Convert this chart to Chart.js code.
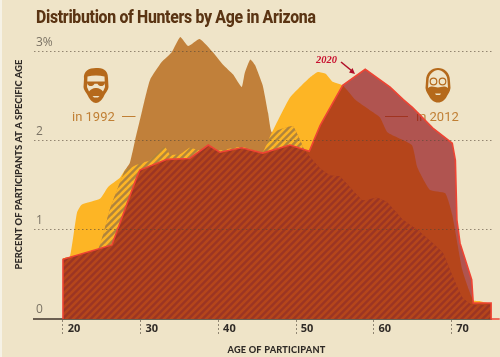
<!DOCTYPE html>
<html>
<head>
<meta charset="utf-8">
<title>Distribution of Hunters by Age in Arizona</title>
<script src="https://cdn.jsdelivr.net/npm/chart.js@4"></script>
<style>
  html, body { margin: 0; padding: 0; }
  body { width: 500px; height: 357px; overflow: hidden; position: relative;
         background: linear-gradient(to right, #f6f2e6 0 2px, #efe4c8 2px); }
  canvas { position: absolute; left: 0; top: 0; filter: blur(0.35px); }
  h1 { position: absolute; left: 36px; top: 7px; margin: 0; white-space: nowrap;
       font: 800 17.5px "Roboto", sans-serif; color: #5a3413; letter-spacing: -0.35px;
       transform: scaleX(0.905); transform-origin: left top; }
  svg { position: absolute; }
</style>
</head>
<body>
<canvas id="grafica" width="500" height="357"></canvas>
<h1>Distribution of Hunters by Age in Arizona</h1>

<svg style="left:83px;top:67px" width="26" height="36" viewBox="0 0 26 36">
  <path fill="#b5691b" d="M1 12C0 4 6 1 13 1C19 1 25 2 25 11L25.500 20C25 24 22 26 21 29C19 33 16 36 13 36C10 36 7 33 5 29C4 26 1 24 .5 20Z"/>
  <path fill="#efe4c8" d="M4.500 9.500C10 8 16 8 21.500 9.500L22 20L20 24.500C18 22 15 20.500 13 21C11 20.500 8 22 6 24.500L4 20Z"/>
  <path fill="#b5691b" d="M4 14.500H22V16C21 20 16 20 14.500 16.800H11.500C10 20 5 20 4 16Z"/>
  <path fill="#efe4c8" d="M9.500 29H16.500L15 30.500H11Z"/>
</svg>

<svg style="left:425px;top:68px" width="26" height="35" viewBox="0 0 26 35">
  <path fill="#b5691b" d="M1 13C1 4 7 0 13 0C19 0 25 4 25 13L25.500 20C25 24 23 26 22 28C20 32 17 34.500 13 34.500C9 34.500 6 32 4 28C3 26 1 24 .5 20Z"/>
  <path fill="#efe4c8" d="M3.500 13C3.500 6 9 2 13 2C17 2 22.500 6 22.500 13L23 20C19 17 16 19.500 13 19.500C10 19.500 7 17 3 20Z"/>
  <circle cx="8.500" cy="13.500" r="3.300" fill="none" stroke="#b5691b" stroke-width="1.200"/>
  <circle cx="17.500" cy="13.500" r="3.300" fill="none" stroke="#b5691b" stroke-width="1.200"/>
  <path fill="#efe4c8" d="M10 25.500H16L15 27H11Z"/>
</svg>

<script>
// Valores (edad, porcentaje)
const edades1992 = [20, 24.5, 26, 28, 28.6, 29.3, 30.2, 31.2, 32.7, 34, 35.1, 36.1, 37.6, 39.3, 40.6, 41.9, 43, 43.4, 44.1, 44.7, 45.7, 46.4, 46.9, 48.8, 49.6, 50.5, 51.1, 53.1, 54.4, 55.6, 56.9, 58.6, 60.4, 61.7, 63.8, 65.6, 67.6, 68.9, 70.2, 71.4, 72.6, 75.1];
const valores1992 = [0.68, 0.78, 1.22, 1.67, 1.75, 2.01, 2.34, 2.68, 2.88, 2.99, 3.16, 3.06, 3.14, 2.99, 2.85, 2.74, 2.60, 2.76, 2.91, 2.85, 2.62, 2.31, 2.09, 2.15, 2.16, 2.01, 1.89, 1.69, 1.61, 1.60, 1.48, 1.33, 1.36, 1.31, 1.11, 1.00, 0.85, 0.74, 0.47, 0.24, 0.16, 0.16];

const edades2012 = [20, 20.9, 21.8, 22.4, 24.8, 25.8, 27.3, 28, 29.5, 31.2, 33.1, 33.8, 35.1, 36.3, 37.6, 38.7, 40.2, 43.8, 45.7, 46.9, 49.2, 51.8, 52.8, 53.8, 54.7, 56, 57.6, 59.5, 60.8, 61.8, 64.9, 65.6, 67.2, 69.2, 70.1, 71.4, 72.8, 73.7, 75.1];
const valores2012 = [0.68, 0.70, 1.19, 1.28, 1.35, 1.48, 1.58, 1.67, 1.73, 1.78, 1.93, 1.84, 1.85, 1.92, 1.89, 1.94, 1.89, 1.94, 1.87, 2.09, 2.48, 2.71, 2.77, 2.75, 2.66, 2.62, 2.46, 2.34, 2.26, 2.09, 1.95, 1.70, 1.45, 1.41, 1.17, 0.55, 0.21, 0.20, 0.17];

// Zona donde coinciden 1992 y 2012 (rayada en el original)
const edadesComun = [20, 24.5, 26, 28, 29.5, 31.2, 33.1, 33.8, 35.1, 36.3, 37.6, 38.7, 40.2, 43, 45.7, 46.9, 48.8, 49.6, 50.5, 51.1, 53.1, 54.4, 55.6, 56.9, 58.6, 60.4, 61.7, 63.8, 65.6, 67.6, 68.9, 70.2, 71.4, 72.6, 75.1];
const valoresComun = [0.68, 0.78, 1.22, 1.67, 1.73, 1.78, 1.93, 1.84, 1.85, 1.92, 1.89, 1.94, 1.89, 1.93, 1.87, 2.09, 2.15, 2.16, 2.01, 1.89, 1.69, 1.61, 1.60, 1.48, 1.33, 1.36, 1.31, 1.11, 1.00, 0.85, 0.74, 0.47, 0.24, 0.16, 0.16];

const edades2020 = [20, 20, 26.3, 29.5, 29.9, 33.4, 36.3, 38.7, 40.2, 43, 45.7, 49.2, 51.7, 53.1, 56, 58.9, 62.1, 63.8, 65, 67.6, 70.1, 70.5, 70.7, 71.1, 72.6, 72.8, 75.1, 75.1, 76.2];
const valores2020 = [0, 0.67, 0.83, 1.59, 1.67, 1.79, 1.80, 1.95, 1.87, 1.92, 1.86, 1.95, 1.88, 2.17, 2.62, 2.80, 2.60, 2.46, 2.37, 2.14, 1.97, 1.78, 1.11, 0.85, 0.44, 0.18, 0.18, 0, 0];

const ticksEdad = [20, 30, 40, 50, 60, 70];
const ticksPorcentaje = [0, 1, 2, 3];

function puntos(xs, ys) {
    return xs.map((x, i) => ({ x: x, y: ys[i] }));
}

// Rayas diagonales para la zona comun
function crearRayado() {
    const c = document.createElement('canvas');
    c.width = 7;
    c.height = 7;
    const g = c.getContext('2d');
    g.fillStyle = '#b0843c';
    g.fillRect(0, 0, 7, 7);
    g.strokeStyle = '#fdb525';
    g.lineWidth = 2.6;
    for (const d of [-7, 0, 7]) {
        g.beginPath();
        g.moveTo(d - 1, 8);
        g.lineTo(d + 8, -1);
        g.stroke();
    }
    return g.createPattern(c, 'repeat');
}

// Textos sueltos y flecha
const notas = {
    id: 'notas',
    beforeDatasetsDraw(chart) {
        const ctx = chart.ctx;
        ctx.save();
        ctx.font = '400 13px Roboto, sans-serif';
        ctx.fillStyle = '#c07f34';
        ctx.textBaseline = 'alphabetic';
        ctx.fillText('in 1992', 72, 121);
        ctx.fillText('in 2012', 416, 121);
        ctx.strokeStyle = '#c07f34';
        ctx.lineWidth = 1;
        ctx.beginPath();
        ctx.moveTo(122, 116.5);
        ctx.lineTo(135.5, 116.5);
        ctx.moveTo(385, 116.5);
        ctx.lineTo(408, 116.5);
        ctx.stroke();
        ctx.restore();
    },
    afterDatasetsDraw(chart) {
        const ctx = chart.ctx;
        ctx.save();
        ctx.font = 'italic bold 10.5px "Liberation Serif", serif';
        ctx.fillStyle = '#c8102e';
        ctx.fillText('2020', 316, 63);
        ctx.strokeStyle = '#b00f28';
        ctx.lineWidth = 1.6;
        ctx.beginPath();
        ctx.moveTo(341, 62);
        ctx.lineTo(352, 71);
        ctx.stroke();
        ctx.beginPath();
        ctx.moveTo(355, 74);
        ctx.lineTo(349, 72.5);
        ctx.lineTo(352.5, 68);
        ctx.closePath();
        ctx.fillStyle = '#b00f28';
        ctx.fill();
        ctx.font = '900 9.2px Lato, sans-serif';
        ctx.letterSpacing = '0.2px';
        ctx.fillStyle = '#2f2a26';
        ctx.textAlign = 'center';
        ctx.fillText('AGE OF PARTICIPANT', 276.5, 353);
        ctx.restore();
    }
};

new Chart(document.getElementById('grafica'), {
    type: 'line',
    data: {
        datasets: [
            {
                label: '2020',
                data: puntos(edades2020, valores2020),
                order: 1,
                borderColor: '#ee4433',
                borderWidth: 1.6,
                backgroundColor: 'rgba(146,16,24,0.68)',
                fill: 'origin',
                tension: 0,
                clip: false
            },
            {
                label: 'Zona comun',
                data: puntos(edadesComun, valoresComun),
                order: 2,
                borderWidth: 0,
                backgroundColor: crearRayado(),
                fill: 'origin',
                tension: 0.1
            },
            {
                label: '1992',
                data: puntos(edades1992, valores1992),
                order: 3,
                borderWidth: 0,
                backgroundColor: '#c1803a',
                fill: 'origin',
                tension: 0.15
            },
            {
                label: '2012',
                data: puntos(edades2012, valores2012),
                order: 4,
                borderWidth: 0,
                backgroundColor: '#fdb525',
                fill: 'origin',
                tension: 0.15
            }
        ]
    },
    options: {
        responsive: false,
        animation: false,
        layout: { padding: { top: 10, right: 8.5, left: 0, bottom: 0 } },
        elements: { point: { radius: 0 } },
        plugins: { legend: { display: false }, tooltip: { enabled: false } },
        scales: {
            x: {
                type: 'linear',
                min: 16.27,
                max: 75.15,
                afterBuildTicks: (eje) => { eje.ticks = ticksEdad.map(v => ({ value: v })); },
                afterFit: (eje) => { eje.height = 38; },
                border: { display: true, color: '#6b5f52', width: 2 },
                grid: {
                    drawOnChartArea: false,
                    tickLength: 17,
                    tickColor: '#8f8572',
                    tickWidth: 1,
                    tickBorderDash: [2, 2]
                },
                ticks: {
                    padding: -14,
                    labelOffset: 11,
                    maxRotation: 0,
                    autoSkip: false,
                    color: '#2f2a26',
                    font: { family: 'Open Sans', size: 11, weight: '700' }
                }
            },
            y: {
                min: 0,
                max: 3.464,
                afterBuildTicks: (eje) => { eje.ticks = ticksPorcentaje.map(v => ({ value: v })); },
                afterFit: (eje) => { eje.width = 34; },
                border: { display: false, dash: [1.5, 2.5] },
                grid: {
                    z: 1,
                    drawTicks: false,
                    lineWidth: 1,
                    color: (c) => c.tick && c.tick.value === 0 ? 'rgba(0,0,0,0)' : 'rgba(85,70,55,0.6)'
                },
                ticks: {
                    mirror: true,
                    padding: 2,
                    labelOffset: -9,
                    color: '#7a7264',
                    font: { family: 'Open Sans', size: 12 },
                    callback: (v) => v === 3 ? '3%' : v
                },
                title: {
                    display: true,
                    text: 'PERCENT OF PARTICIPANTS AT A SPECIFIC AGE',
                    color: '#2f2a26',
                    font: { family: 'Lato', size: 9.4, weight: '900' },
                    padding: { top: 13, bottom: 0 }
                }
            }
        }
    },
    plugins: [notas]
});
</script>
</body>
</html>
